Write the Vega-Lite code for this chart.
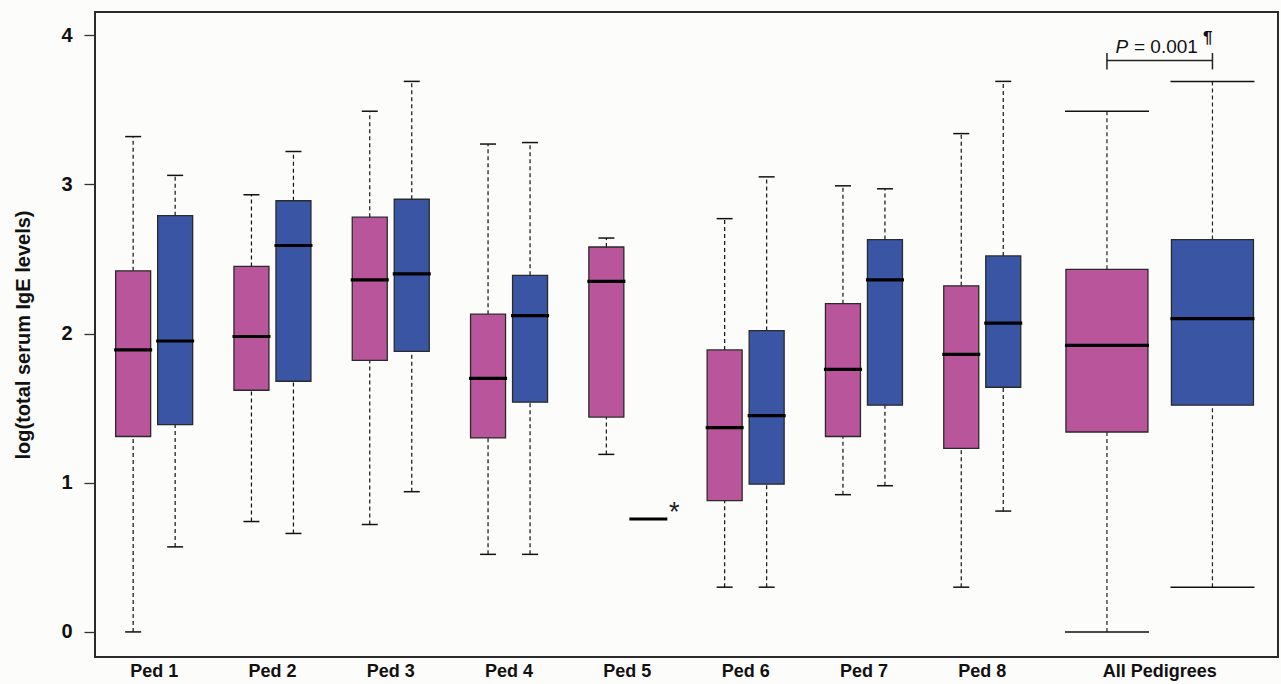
{
  "$schema": "https://vega.github.io/schema/vega-lite/v6.json",
  "autosize": {"type": "none"},
  "padding": {"left": 95, "top": 12, "right": 3, "bottom": 27},
  "width": 1183,
  "height": 645,
  "background": "#fcfcfb",
  "datasets": {
    "peds": [
      {"ped": "Ped 1", "sex": "F", "min": 0.0, "q1": 1.31, "median": 1.89, "q3": 2.42, "max": 3.32},
      {"ped": "Ped 1", "sex": "M", "min": 0.57, "q1": 1.39, "median": 1.95, "q3": 2.79, "max": 3.06},
      {"ped": "Ped 2", "sex": "F", "min": 0.74, "q1": 1.62, "median": 1.98, "q3": 2.45, "max": 2.93},
      {"ped": "Ped 2", "sex": "M", "min": 0.66, "q1": 1.68, "median": 2.59, "q3": 2.89, "max": 3.22},
      {"ped": "Ped 3", "sex": "F", "min": 0.72, "q1": 1.82, "median": 2.36, "q3": 2.78, "max": 3.49},
      {"ped": "Ped 3", "sex": "M", "min": 0.94, "q1": 1.88, "median": 2.40, "q3": 2.90, "max": 3.69},
      {"ped": "Ped 4", "sex": "F", "min": 0.52, "q1": 1.30, "median": 1.70, "q3": 2.13, "max": 3.27},
      {"ped": "Ped 4", "sex": "M", "min": 0.52, "q1": 1.54, "median": 2.12, "q3": 2.39, "max": 3.28},
      {"ped": "Ped 5", "sex": "F", "min": 1.19, "q1": 1.44, "median": 2.35, "q3": 2.58, "max": 2.64},
      {"ped": "Ped 5", "sex": "M", "min": null, "q1": null, "median": 0.757, "q3": null, "max": null},
      {"ped": "Ped 6", "sex": "F", "min": 0.30, "q1": 0.88, "median": 1.37, "q3": 1.89, "max": 2.77},
      {"ped": "Ped 6", "sex": "M", "min": 0.30, "q1": 0.99, "median": 1.45, "q3": 2.02, "max": 3.05},
      {"ped": "Ped 7", "sex": "F", "min": 0.92, "q1": 1.31, "median": 1.76, "q3": 2.20, "max": 2.99},
      {"ped": "Ped 7", "sex": "M", "min": 0.98, "q1": 1.52, "median": 2.36, "q3": 2.63, "max": 2.97},
      {"ped": "Ped 8", "sex": "F", "min": 0.30, "q1": 1.23, "median": 1.86, "q3": 2.32, "max": 3.34},
      {"ped": "Ped 8", "sex": "M", "min": 0.81, "q1": 1.64, "median": 2.07, "q3": 2.52, "max": 3.69}
    ],
    "all": [
      {"ped": "All Pedigrees", "sex": "F", "min": 0.0, "q1": 1.34, "median": 1.92, "q3": 2.43, "max": 3.49},
      {"ped": "All Pedigrees", "sex": "M", "min": 0.30, "q1": 1.52, "median": 2.10, "q3": 2.63, "max": 3.69}
    ]
  },
  "config": {
    "font": "Liberation Sans",
    "view": {"stroke": "#2b2b2b", "strokeWidth": 2},
    "tick": {"opacity": 1},
    "axis": {
      "grid": false,
      "domain": false,
      "labelFont": "Liberation Sans",
      "labelFontWeight": "bold",
      "labelFontSize": 20,
      "labelColor": "#111111",
      "titleFont": "Liberation Sans",
      "titleFontWeight": "bold",
      "titleColor": "#111111"
    },
    "axisX": {"ticks": false, "tickSize": 0, "labelPadding": 5, "labelFontSize": 18, "labelAngle": 0},
    "axisY": {"tickSize": 11, "tickWidth": 1.3, "tickColor": "#333333", "labelPadding": 12, "titleFontSize": 20, "titlePadding": 27}
  },
  "resolve": {"scale": {"x": "independent", "xOffset": "independent"}, "axis": {"x": "independent"}},
  "layer": [
    {
      "data": {"name": "peds"},
      "encoding": {
        "x": {
          "field": "ped", "type": "nominal",
          "scale": {"domain": ["Ped 1", "Ped 2", "Ped 3", "Ped 4", "Ped 5", "Ped 6", "Ped 7", "Ped 8", "_a", "_b"], "paddingInner": 0, "paddingOuter": 0},
          "axis": {"orient": "bottom", "title": null, "labelExpr": "substring(datum.value, 0, 1) === '_' ? '' : datum.value"}
        },
        "xOffset": {"field": "sex", "type": "nominal", "scale": {"domain": ["F", "M"], "paddingInner": 0.1667, "paddingOuter": 0.4916}}
      },
      "layer": [
        {
          "transform": [{"filter": "isValid(datum.q1)"}],
          "mark": {"type": "rule", "strokeDash": [4, 3], "strokeWidth": 1.2, "color": "#111111"},
          "encoding": {
            "y": {"field": "q3", "type": "quantitative", "scale": {"domain": [-0.168, 4.155], "nice": false, "zero": false}, "axis": {"values": [0, 1, 2, 3, 4], "format": "d", "title": "log(total serum IgE levels)"}},
            "y2": {"field": "max"}
          }
        },
        {
          "transform": [{"filter": "isValid(datum.q1)"}],
          "mark": {"type": "rule", "strokeDash": [4, 3], "strokeWidth": 1.2, "color": "#111111"},
          "encoding": {"y": {"field": "min", "type": "quantitative"}, "y2": {"field": "q1"}}
        },
        {
          "transform": [{"filter": "isValid(datum.q1)"}],
          "mark": {"type": "tick", "size": 16, "thickness": 1.5, "color": "#111111", "opacity": 1},
          "encoding": {"y": {"field": "max", "type": "quantitative"}}
        },
        {
          "transform": [{"filter": "isValid(datum.q1)"}],
          "mark": {"type": "tick", "size": 16, "thickness": 1.5, "color": "#111111", "opacity": 1},
          "encoding": {"y": {"field": "min", "type": "quantitative"}}
        },
        {
          "transform": [{"filter": "isValid(datum.q1)"}],
          "mark": {"type": "bar", "stroke": "#2a2a2a", "strokeWidth": 1.3},
          "encoding": {
            "y": {"field": "q1", "type": "quantitative"},
            "y2": {"field": "q3"},
            "color": {"field": "sex", "type": "nominal", "scale": {"domain": ["F", "M"], "range": ["#b9559b", "#3a55a3"]}, "legend": null}
          }
        },
        {
          "mark": {"type": "tick", "size": 38, "thickness": 3.2, "color": "#000000", "opacity": 1},
          "encoding": {"y": {"field": "median", "type": "quantitative"}}
        },
        {
          "transform": [{"filter": "!isValid(datum.q1)"}],
          "mark": {"type": "text", "text": "*", "fontSize": 27, "align": "center", "baseline": "middle", "dx": 26, "dy": -6, "color": "#222222"},
          "encoding": {"y": {"field": "median", "type": "quantitative"}}
        }
      ]
    },
    {
      "data": {"name": "all"},
      "encoding": {
        "x": {
          "field": "ped", "type": "nominal",
          "scale": {"domain": ["_1", "_2", "_3", "_4", "All Pedigrees"], "paddingInner": 0, "paddingOuter": 0},
          "axis": {"orient": "bottom", "title": null, "labelExpr": "substring(datum.value, 0, 1) === '_' ? '' : datum.value"}
        },
        "xOffset": {"field": "sex", "type": "nominal", "scale": {"domain": ["F", "M"], "paddingInner": 0.2227, "paddingOuter": 0.2327}}
      },
      "layer": [
        {
          "mark": {"type": "rule", "strokeDash": [4, 3], "strokeWidth": 1.2, "color": "#222222"},
          "encoding": {"y": {"field": "q3", "type": "quantitative"}, "y2": {"field": "max"}}
        },
        {
          "mark": {"type": "rule", "strokeDash": [4, 3], "strokeWidth": 1.2, "color": "#222222"},
          "encoding": {"y": {"field": "min", "type": "quantitative"}, "y2": {"field": "q1"}}
        },
        {
          "mark": {"type": "tick", "size": 84, "thickness": 1.5, "color": "#111111", "opacity": 1},
          "encoding": {"y": {"field": "max", "type": "quantitative"}}
        },
        {
          "mark": {"type": "tick", "size": 84, "thickness": 1.5, "color": "#111111", "opacity": 1},
          "encoding": {"y": {"field": "min", "type": "quantitative"}}
        },
        {
          "mark": {"type": "bar", "stroke": "#2a2a2a", "strokeWidth": 1.3},
          "encoding": {
            "y": {"field": "q1", "type": "quantitative"},
            "y2": {"field": "q3"},
            "color": {"field": "sex", "type": "nominal", "scale": {"domain": ["F", "M"], "range": ["#b9559b", "#3a55a3"]}, "legend": null}
          }
        },
        {
          "mark": {"type": "tick", "size": 84, "thickness": 3.2, "color": "#000000", "opacity": 1},
          "encoding": {"y": {"field": "median", "type": "quantitative"}}
        },
        {
          "mark": {"type": "line", "color": "#222222", "strokeWidth": 1.5},
          "encoding": {"y": {"datum": 3.83, "type": "quantitative"}}
        },
        {
          "mark": {"type": "rule", "color": "#222222", "strokeWidth": 1.5},
          "encoding": {"y": {"datum": 3.77, "type": "quantitative"}, "y2": {"datum": 3.88}}
        },
        {
          "transform": [{"filter": "datum.sex === 'F'"}],
          "mark": {"type": "text", "text": "P", "fontSize": 19, "fontStyle": "italic", "align": "center", "baseline": "alphabetic", "dx": 15, "color": "#111111"},
          "encoding": {"y": {"datum": 3.879, "type": "quantitative"}}
        },
        {
          "transform": [{"filter": "datum.sex === 'F'"}],
          "mark": {"type": "text", "text": "= 0.001", "fontSize": 19, "align": "left", "baseline": "alphabetic", "dx": 27, "color": "#111111"},
          "encoding": {"y": {"datum": 3.879, "type": "quantitative"}}
        },
        {
          "transform": [{"filter": "datum.sex === 'F'"}],
          "mark": {"type": "text", "text": "¶", "fontSize": 17, "fontWeight": "bold", "align": "left", "baseline": "alphabetic", "dx": 96, "color": "#111111"},
          "encoding": {"y": {"datum": 3.95, "type": "quantitative"}}
        }
      ]
    }
  ]
}
